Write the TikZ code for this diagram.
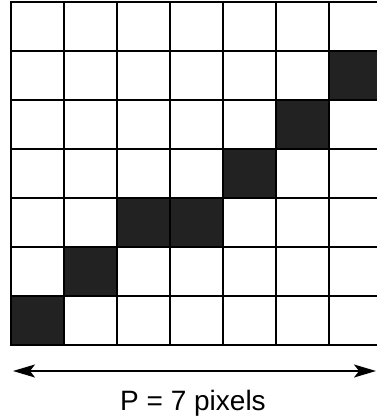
\documentclass[tikz,border=0pt]{standalone}
\usepackage{fontspec}
\setmainfont{Liberation Sans}
\usetikzlibrary{arrows.meta}
\definecolor{PixDark}{HTML}{222222}
\tikzset{
  gridline/.style={line width=2.6pt,draw=black,line cap=rect},
  pixfill/.style={fill=PixDark},
  widtharrow/.style={{Stealth[length=22pt,width=13pt,inset=5pt]}-{Stealth[length=22pt,width=13pt,inset=5pt]},line width=1.6pt,draw=black},
  sizelabel/.style={font=\fontsize{28}{32}\selectfont,anchor=base,inner sep=0pt}
}
\begin{document}
\begin{tikzpicture}[x=1pt,y=-1pt]
\useasboundingbox (0,0) rectangle (376,419);
% dark pixels of the line
\foreach \col/\row in {0/6,1/5,2/4,3/4,4/3,5/2,6/1}
  \fill[pixfill] ({11+53*\col},{2+49*\row}) rectangle ++(53,49);
% pixel grid
\foreach \k in {0,...,7}{
  \draw[gridline] ({11+53*\k},2) -- ({11+53*\k},345);
  \draw[gridline] (11,{2+49*\k}) -- (382,{2+49*\k});
}
\coordinate (wleft) at (13,371);
\coordinate (wright) at (376,371);
\draw[widtharrow] (wleft) -- (wright);
\node[sizelabel] (plabel) at (193,410) {P = 7 pixels};
\end{tikzpicture}
\end{document}
